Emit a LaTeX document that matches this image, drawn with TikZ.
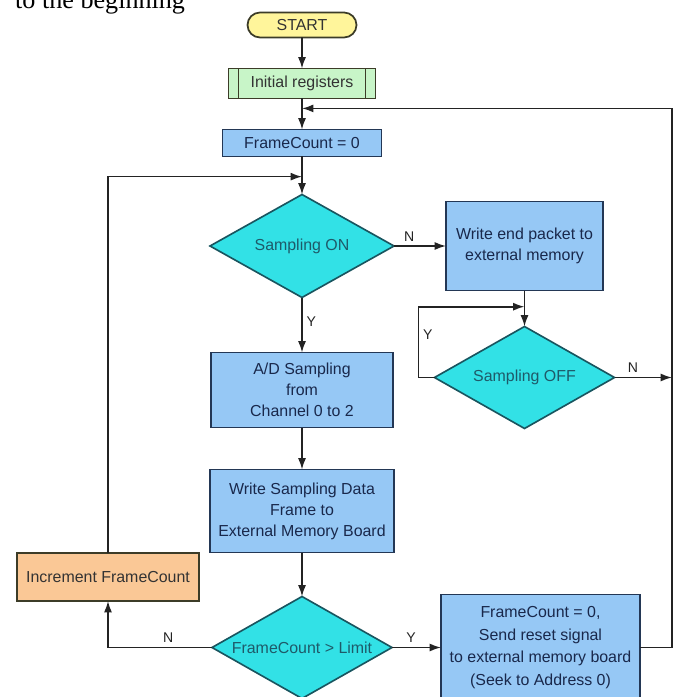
\documentclass[tikz,border=0pt]{standalone}
\usepackage{fontspec}
\setmainfont{Liberation Sans}
\newfontfamily\pageserif{Liberation Serif}
\usetikzlibrary{positioning,shapes.geometric,shapes.misc,arrows.meta,calc}

\definecolor{termfill}{RGB}{255,245,155}
\definecolor{termline}{RGB}{60,60,40}
\definecolor{initfill}{RGB}{200,245,200}
\definecolor{procfill}{RGB}{150,200,245}
\definecolor{boxline}{RGB}{35,55,85}
\definecolor{boxtext}{RGB}{25,40,75}
\definecolor{decfill}{RGB}{50,225,230}
\definecolor{decline}{RGB}{25,85,95}
\definecolor{dectext}{RGB}{30,90,105}
\definecolor{incfill}{RGB}{250,200,150}
\definecolor{linecol}{RGB}{35,35,35}

\begin{document}
\begin{tikzpicture}[
  font=\fontsize{13.6}{17.9}\selectfont,
  box/.style={draw=boxline, fill=procfill, text=boxtext, line width=1.5pt, align=center, inner sep=0pt, outer sep=0pt},
  dec/.style={diamond, draw=decline, fill=decfill, text=dectext, line width=1.4pt, inner sep=0pt, outer sep=0pt, aspect=1.77},
  line/.style={draw=linecol, line width=1.4pt},
  arr/.style={line, -{Latex[length=3.4mm,width=2.4mm]}},
  lbl/.style={font=\fontsize{12}{14}\selectfont, text=linecol}
]
\useasboundingbox (0,0) rectangle (20.28,-20.91);

% cut-off caption line of the page
\node[anchor=base west, inner sep=0pt, font=\pageserif\fontsize{22.3}{26}\selectfont] (page) at (0.45,-0.27) {to the beginning};

% main column
\node[rounded rectangle, draw=termline, fill=termfill, text=black!80, line width=1.5pt,
      inner sep=0pt, outer sep=0pt, minimum width=3.27cm, minimum height=0.75cm] (start) at (9.06,-0.75) {START};
\node[box, fill=initfill, draw=termline, text=black!80, minimum width=4.41cm, minimum height=0.9cm,
      below=0.93cm of start,
      path picture={\draw[termline, line width=1.2pt]
        ([xshift=0.3cm]path picture bounding box.north west) -- ([xshift=0.3cm]path picture bounding box.south west)
        ([xshift=-0.3cm]path picture bounding box.north east) -- ([xshift=-0.3cm]path picture bounding box.south east);}]
      (init) {Initial registers};
\node[box, minimum width=4.77cm, minimum height=0.81cm, below=0.93cm of init] (fc0) {FrameCount = 0};
\node[dec, minimum width=5.52cm, minimum height=3.09cm, below=1.14cm of fc0] (son) {Sampling ON};
\node[box, minimum width=5.46cm, minimum height=2.25cm, below=1.65cm of son] (ad) {A/D Sampling\\from\\Channel 0 to 2};
\node[box, minimum width=5.52cm, minimum height=2.49cm, below=1.26cm of ad] (wsd) {Write Sampling Data\\Frame to\\External Memory Board};
\node[dec, minimum width=5.4cm, minimum height=3.06cm, below=1.32cm of wsd] (fcl) {FrameCount > Limit};

% side branches
\node[box, minimum width=4.71cm, minimum height=2.67cm, right=1.56cm of son] (wend) {Write end packet to\\external memory};
\node[dec, minimum width=5.4cm, minimum height=3.06cm, below=1.08cm of wend] (soff) {Sampling OFF};
\node[box, minimum width=5.97cm, minimum height=3.18cm, right=1.47cm of fcl,
      font=\fontsize{13.6}{19.2}\selectfont] (rst) {FrameCount = 0,\\Send reset signal\\to external memory board\\(Seek to Address 0)};
\node[box, fill=incfill, draw=termline, text=black!80, minimum width=5.46cm, minimum height=1.44cm] (inc) at (3.24,-17.31) {Increment FrameCount};

% join points
\coordinate (j1) at ($(init.south)!0.32!(fc0.north)$);
\coordinate (j2) at ($(fc0.south)!0.53!(son.north)$);
\coordinate (j3) at ($(wend.south)!0.45!(soff.north)$);
\coordinate (yback) at ($(soff.west)+(-0.48,0)$);
\coordinate (redge) at (20.16,0);

% connectors
\draw[arr] (start) -- (init);
\draw[arr] (init) -- (fc0);
\draw[arr] (fc0) -- (son);
\draw[arr] (son) -- node[lbl, above, pos=0.29] {N} (wend);
\draw[arr] (son) -- node[lbl, right, pos=0.44] {Y} (ad);
\draw[arr] (ad) -- (wsd);
\draw[arr] (wsd) -- (fcl);
\draw[arr] (wend) -- (soff);
\draw[arr] (soff.west) -- (yback) |- node[lbl, right, pos=0.3] {Y} (j3);
\draw[arr] (soff) -- node[lbl, above, pos=0.32] {N} (soff.east -| redge);
\draw[arr] (fcl) -- node[lbl, above, pos=0.39] {Y} (rst);
\draw[arr] (fcl.west) -| node[lbl, above, pos=0.21] {N} (inc.south);
\draw[arr] (inc.north) |- (j2);
\draw[arr] (rst.east) -| (redge |- j1) -- (j1);
\end{tikzpicture}
\end{document}
